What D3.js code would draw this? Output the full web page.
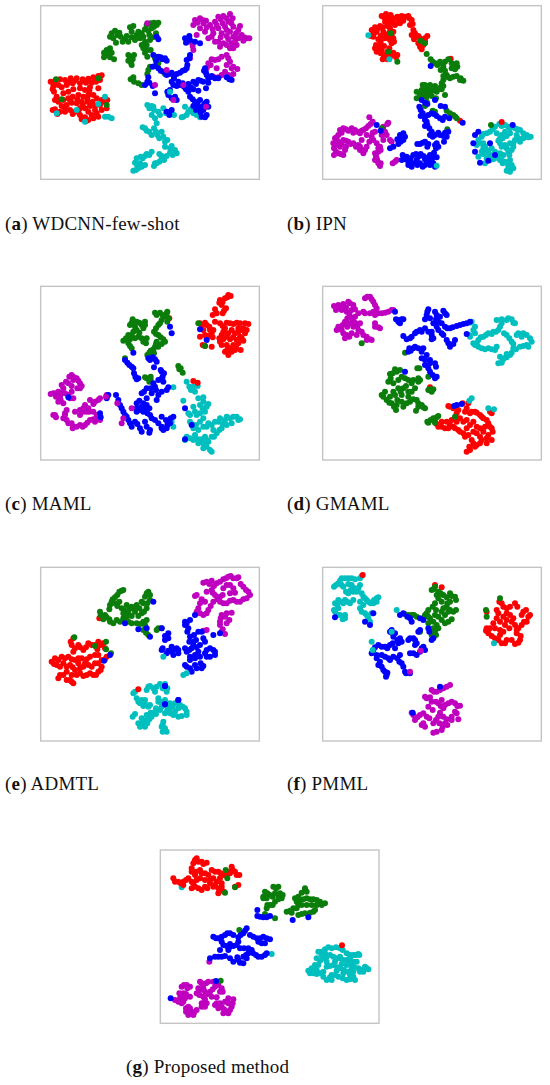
<!DOCTYPE html>
<html>
<head>
<meta charset="utf-8">
<script src="https://cdn.jsdelivr.net/npm/d3@7"></script>
<style>
  html, body { margin: 0; background: #fff; }
  svg { display: block; }
  text { font-family: "Liberation Serif", serif; font-size: 19px; letter-spacing: 0.2px; fill: #111; }
</style>
</head>
<body>
<div id="chart"></div>
<script>
// t-SNE points, in a 720 x 570 reading grid per panel
const aRed = [[75,243],[90,238],[105,240],[122,235],[140,235],[158,238],[175,236],[190,232],[205,228],[215,226],[70,258],[85,255],[72,275],[80,290],[95,262],[110,255],[128,250],[150,250],[168,248],[185,248],[198,245],[210,240],[180,262],[165,270],[150,265],[130,268],[115,275],[100,280],[85,305],[100,300],[115,295],[128,290],[145,285],[160,290],[175,285],[190,285],[200,295],[188,305],[172,305],[155,305],[140,310],[125,308],[110,315],[95,318],[75,328],[90,335],[105,335],[120,330],[135,335],[150,325],[165,325],[180,318],[195,318],[210,315],[220,305],[150,345],[165,352],[185,345],[200,340],[215,330],[230,325],[168,364],[155,358],[232,300],[62,245],[68,268],[75,300],[68,330],[82,342],[115,248],[135,242],[165,243],[195,238],[178,272],[172,295],[158,315],[142,298],[120,300],[105,325],[128,342],[145,335],[175,335],[195,330],[205,350],[190,355],[175,360],[215,300],[205,265]];
const aGreen = [[245,100],[255,92],[262,105],[250,115],[258,128],[272,110],[285,118],[295,125],[305,112],[300,82],[310,78],[305,95],[320,105],[330,115],[335,100],[345,88],[355,92],[362,70],[372,68],[380,75],[365,85],[378,100],[368,112],[360,120],[350,135],[340,145],[345,158],[352,170],[362,150],[230,150],[240,145],[228,162],[240,172],[252,178],[222,172],[300,170],[308,178],[295,182],[305,195],[312,165],[375,175],[385,190],[378,170],[355,210],[352,222],[302,238],[312,245],[325,250],[405,222],[78,238],[205,235],[95,298],[230,315],[240,110],[268,98],[278,125],[290,108],[315,120],[325,95],[340,110],[350,75],[358,105],[372,80],[385,68],[345,125],[335,135],[352,150],[235,165],[222,158],[245,158],[295,165],[303,188],[360,200],[310,232],[335,255],[385,180]];
const aBlue = [[380,110],[370,165],[385,170],[398,178],[410,182],[375,198],[385,205],[400,215],[410,225],[425,218],[440,222],[450,218],[465,210],[470,205],[355,232],[345,255],[358,248],[368,258],[432,235],[445,245],[430,255],[420,270],[415,285],[425,295],[440,300],[450,255],[462,260],[475,252],[490,268],[475,275],[490,245],[505,240],[520,245],[535,235],[545,228],[555,235],[528,218],[525,205],[530,225],[470,180],[480,165],[465,115],[480,120],[495,125],[510,130],[480,290],[495,305],[510,300],[525,310],[535,320],[520,330],[505,325],[490,318],[530,345],[515,350],[565,235],[590,232],[605,240],[505,272],[528,265],[410,335],[425,330],[375,280],[378,182],[392,172],[405,175],[368,200],[392,212],[418,222],[432,228],[458,212],[472,195],[478,175],[352,245],[440,258],[425,245],[412,275],[435,290],[458,250],[468,268],[482,262],[498,252],[512,242],[540,232],[522,212],[488,298],[502,312],[518,318],[530,305],[512,338],[525,352],[498,330],[468,128],[478,108],[385,118],[598,238],[535,248],[418,345]];
const aMagenta = [[495,60],[510,55],[520,70],[510,85],[525,95],[540,75],[555,65],[565,50],[580,48],[600,42],[608,55],[595,65],[578,70],[565,85],[550,100],[535,115],[555,125],[575,100],[590,90],[610,80],[625,90],[635,105],[650,115],[640,122],[625,115],[610,110],[595,118],[605,130],[620,135],[600,145],[580,130],[570,140],[555,180],[545,178],[535,190],[575,170],[590,165],[600,185],[590,195],[605,205],[622,207],[610,222],[595,225],[575,225],[560,205],[550,230],[480,125],[490,150],[480,175],[500,105],[502,68],[518,60],[530,82],[548,88],[560,75],[572,58],[590,55],[604,70],[585,80],[600,95],[618,100],[630,78],[642,112],[658,115],[615,125],[590,108],[572,112],[565,125],[545,110],[590,135],[610,145],[565,178],[542,195],[530,205],[595,175],[610,200],[585,215],[600,232],[565,232],[488,138],[490,75],[528,62]];
const aCyan = [[358,325],[372,330],[365,345],[375,355],[390,345],[400,325],[420,335],[432,345],[345,385],[358,395],[372,385],[382,405],[395,395],[380,370],[400,410],[412,420],[405,440],[420,445],[435,450],[428,465],[410,468],[395,475],[380,490],[372,498],[388,462],[365,455],[350,462],[338,475],[320,475],[330,490],[345,495],[325,505],[310,512],[460,350],[475,335],[490,340],[465,320],[510,352],[352,315],[365,318],[370,320],[385,335],[408,340],[425,340],[338,382],[350,392],[365,405],[378,395],[388,415],[405,425],[425,438],[440,460],[420,458],[402,480],[388,485],[375,490],[395,468],[358,465],[345,468],[332,470],[315,488],[322,498],[335,500],[318,510],[470,345],[482,328],[455,352],[500,345]];
const aMixed = [[235,350],[245,355],[225,350],[205,312],[225,290],[140,330],[80,340],[165,365],[420,275]];
const aMixedMagenta = [[375,255],[430,300],[460,255],[528,320],[410,210],[352,70]];

const bRed = [[215,48],[228,42],[242,45],[235,58],[250,55],[262,50],[278,55],[270,70],[255,75],[240,70],[225,65],[210,78],[195,82],[185,90],[200,95],[190,110],[205,118],[198,135],[212,125],[225,115],[235,105],[220,95],[240,85],[250,95],[250,115],[245,130],[238,145],[222,138],[205,150],[200,155],[212,160],[225,165],[240,170],[250,158],[262,165],[218,178],[232,178],[295,48],[305,60],[300,75],[310,90],[305,105],[318,110],[330,115],[345,115],[352,108],[325,130],[340,135],[335,148],[280,62],[422,176],[450,362],[575,366],[222,52],[238,52],[248,65],[265,62],[275,48],[285,50],[232,78],[218,82],[205,85],[192,100],[182,108],[212,108],[228,105],[238,98],[245,108],[252,125],[240,120],[208,140],[195,145],[215,150],[232,155],[245,165],[258,172],[298,55],[308,72],[315,100],[325,108],[338,125],[312,118],[330,140],[345,122],[222,172]];
const bGreen = [[350,162],[362,178],[375,190],[390,185],[405,185],[415,178],[430,195],[442,200],[435,208],[400,200],[392,210],[410,225],[400,240],[420,235],[440,228],[450,240],[460,242],[395,250],[395,268],[405,285],[345,255],[360,255],[375,258],[350,270],[365,272],[380,275],[320,275],[330,282],[340,288],[320,295],[350,290],[365,288],[345,318],[368,332],[410,332],[430,345],[440,355],[412,388],[262,185],[242,100],[332,122],[345,130],[235,155],[215,385],[543,375],[368,185],[382,195],[398,192],[425,190],[440,190],[425,205],[405,212],[400,228],[415,232],[430,230],[452,235],[400,258],[338,255],[355,262],[372,265],[385,268],[335,270],[330,292],[345,280],[360,280],[378,295],[375,335],[420,340],[436,350],[350,305],[392,262]];
const bBlue = [[362,198],[335,300],[328,320],[352,312],[375,300],[392,318],[405,320],[338,340],[332,348],[345,350],[350,365],[345,378],[358,385],[360,405],[375,405],[390,405],[405,398],[415,395],[402,425],[380,430],[378,445],[372,458],[345,425],[330,432],[352,440],[322,432],[365,340],[380,348],[390,355],[405,350],[418,355],[458,368],[280,400],[270,405],[262,418],[280,420],[265,432],[240,445],[278,465],[290,470],[275,480],[295,485],[310,465],[325,470],[340,468],[355,472],[365,480],[360,495],[345,495],[330,490],[310,490],[295,495],[320,480],[375,500],[380,472],[212,392],[200,375],[345,308],[332,330],[355,345],[372,342],[398,360],[345,360],[352,375],[365,395],[385,398],[400,408],[368,410],[410,410],[385,440],[375,435],[338,428],[355,432],[272,415],[285,410],[250,440],[272,425],[285,478],[302,475],[318,462],[332,462],[345,478],[360,465],[352,488],[338,500],[322,495],[300,480],[370,490],[372,470],[305,500]];
const bMagenta = [[178,352],[188,365],[175,378],[160,390],[150,400],[135,390],[125,385],[115,392],[100,385],[90,390],[85,405],[75,415],[70,430],[72,445],[72,465],[85,460],[100,465],[105,450],[90,440],[85,425],[100,420],[115,425],[130,430],[145,435],[150,450],[160,460],[170,440],[185,410],[190,420],[200,430],[210,440],[205,455],[195,460],[200,475],[205,490],[210,498],[195,480],[220,420],[230,405],[215,405],[232,372],[220,380],[245,425],[248,490],[260,480],[170,405],[155,420],[182,372],[168,385],[155,392],[142,395],[130,398],[108,388],[95,398],[80,412],[75,435],[78,455],[92,462],[108,440],[95,432],[108,422],[122,432],[138,440],[150,440],[165,450],[178,425],[195,395],[188,398],[205,445],[212,450],[198,468],[202,482],[212,490],[225,395],[235,368],[240,420],[255,485],[160,450]];
const bCyan = [[540,395],[555,380],[568,372],[585,375],[600,385],[615,385],[630,390],[640,400],[650,405],[662,410],[640,415],[630,425],[615,420],[600,400],[585,395],[575,405],[570,415],[520,402],[505,420],[520,430],[530,450],[515,455],[540,465],[555,470],[570,480],[585,485],[600,480],[595,500],[610,505],[590,512],[580,465],[590,445],[605,450],[585,435],[570,430],[505,470],[525,490],[545,445],[530,400],[548,388],[575,378],[595,380],[622,388],[645,408],[655,412],[625,415],[610,430],[590,408],[578,415],[565,422],[515,410],[510,430],[525,440],[520,462],[535,458],[550,478],[565,475],[578,490],[592,490],[605,495],[600,515],[598,465],[595,455],[575,440],[610,440],[530,475],[500,435],[560,400],[520,445],[555,455],[570,460],[575,470],[540,480],[620,405],[600,430]];
const bStrays = [[490,430],[495,405],[505,395],[495,455],[510,488],[535,482],[555,465],[540,430],[608,375]];
const bMixed = [[175,106],[380,497],[238,178]];

const cRed = [[595,45],[585,55],[570,60],[575,75],[588,85],[555,88],[548,105],[578,100],[510,130],[525,128],[538,140],[520,150],[510,170],[530,175],[545,160],[550,150],[525,198],[545,200],[570,130],[590,128],[610,132],[630,130],[655,132],[640,145],[645,160],[625,155],[605,150],[585,145],[575,165],[590,170],[610,172],[630,170],[640,182],[625,190],[610,195],[595,205],[585,215],[595,225],[615,210],[632,210],[570,185],[490,303],[503,308],[418,115],[592,52],[602,48],[578,65],[568,68],[582,92],[560,100],[515,135],[530,135],[540,150],[525,165],[535,168],[548,172],[518,195],[555,125],[578,138],[600,130],[620,128],[645,130],[650,150],[632,150],[615,160],[595,160],[580,155],[568,175],[580,178],[600,178],[620,180],[635,175],[618,200],[602,205],[590,212],[605,215],[590,195],[575,195],[625,145]];
const cGreen = [[308,118],[300,135],[315,140],[328,128],[345,125],[340,145],[328,158],[310,155],[295,165],[280,182],[295,190],[305,205],[325,170],[340,185],[350,175],[375,98],[390,98],[410,100],[415,115],[395,120],[385,135],[372,155],[385,165],[400,178],[395,192],[375,200],[362,212],[352,225],[372,220],[380,185],[350,295],[362,290],[358,305],[445,258],[452,265],[458,278],[285,235],[412,95],[505,130],[525,198],[305,128],[320,125],[335,135],[345,135],[320,150],[305,165],[288,175],[300,178],[315,175],[300,198],[335,175],[348,190],[380,105],[398,105],[405,110],[412,125],[390,130],[378,145],[378,162],[392,172],[405,185],[385,200],[370,208],[358,218],[378,192],[345,292],[362,300],[448,268]];
const cBlue = [[310,218],[285,240],[298,255],[310,265],[312,280],[320,298],[355,235],[368,232],[380,245],[372,262],[395,275],[398,290],[385,300],[375,320],[350,325],[335,340],[350,355],[365,340],[380,360],[395,335],[410,330],[320,370],[335,380],[350,375],[340,395],[320,395],[360,405],[375,420],[395,440],[410,445],[420,430],[395,410],[345,425],[360,450],[330,445],[315,425],[300,430],[290,410],[280,395],[270,375],[258,345],[235,345],[420,140],[425,160],[510,148],[530,180],[430,410],[115,352],[465,385],[465,478],[485,435],[210,400],[212,412],[292,248],[305,260],[316,290],[325,295],[360,240],[375,238],[392,270],[402,280],[392,298],[400,305],[415,322],[370,310],[378,330],[385,345],[362,325],[342,335],[328,362],[340,370],[358,385],[345,385],[330,390],[320,385],[352,400],[365,415],[385,430],[400,450],[412,435],[350,440],[335,455],[358,458],[322,432],[305,440],[295,420],[285,405],[275,385],[265,360],[230,355],[395,445],[422,415],[408,420]];
const cMagenta = [[125,285],[140,295],[150,310],[150,325],[130,300],[115,310],[95,315],[85,335],[70,340],[90,350],[105,340],[125,335],[130,355],[100,370],[85,365],[110,390],[75,405],[100,415],[115,430],[130,440],[150,435],[165,435],[180,420],[195,425],[205,415],[190,395],[175,385],[165,375],[180,360],[195,365],[210,355],[150,405],[160,395],[135,395],[230,350],[118,290],[132,292],[145,302],[155,318],[142,325],[125,318],[108,305],[100,325],[78,340],[62,342],[78,350],[95,340],[115,345],[120,355],[92,360],[70,405],[78,412],[105,405],[110,420],[125,430],[140,440],[158,440],[172,428],[190,418],[210,420],[200,405],[178,395],[170,395],[190,372],[205,360],[160,385],[150,390],[105,400],[128,445],[230,345]];
const cCyan = [[483,330],[490,320],[503,318],[470,305],[430,322],[460,362],[505,355],[520,365],[530,380],[525,395],[510,400],[490,380],[480,405],[500,405],[480,425],[490,445],[505,450],[520,440],[535,430],[520,415],[555,425],[570,415],[590,410],[610,410],[625,420],[605,430],[590,435],[575,445],[560,460],[545,470],[535,485],[520,490],[505,490],[490,480],[470,470],[495,465],[525,470],[540,510],[520,505],[430,440],[425,425],[478,320],[495,335],[510,375],[520,352],[535,372],[495,395],[518,385],[475,400],[485,432],[498,435],[510,425],[530,440],[545,435],[565,425],[585,420],[600,415],[620,410],[630,418],[578,432],[568,450],[552,470],[530,480],[515,478],[480,475],[465,480],[505,478],[550,450],[530,500],[545,515]];
const cMixed = [[262,370],[275,430],[280,415],[305,385],[228,350]];

const dMagenta = [[72,78],[85,75],[100,72],[115,65],[130,75],[125,90],[110,95],[95,90],[120,110],[105,125],[120,130],[135,128],[150,130],[85,140],[95,150],[110,165],[125,160],[145,150],[160,165],[180,178],[170,180],[165,55],[180,50],[190,65],[200,85],[180,100],[195,105],[215,100],[235,95],[160,95],[195,130],[205,142],[250,90],[145,100],[135,110],[78,90],[90,85],[108,82],[120,70],[135,88],[118,100],[128,118],[112,115],[98,135],[112,140],[130,140],[142,138],[80,150],[100,160],[118,170],[105,175],[140,165],[155,155],[170,170],[185,180],[172,50],[185,58],[195,75],[165,100],[190,95],[205,100],[225,98],[245,90],[195,140],[210,145]];
const dBlue = [[355,88],[350,105],[345,118],[375,95],[390,110],[405,100],[385,125],[405,140],[420,145],[440,138],[460,132],[380,140],[365,155],[345,145],[330,150],[315,160],[300,175],[280,168],[268,120],[280,118],[370,175],[395,160],[410,180],[420,200],[435,180],[310,205],[295,215],[325,205],[340,205],[350,225],[335,235],[345,255],[360,250],[375,250],[360,275],[375,295],[480,125],[470,162],[255,95],[285,275],[440,375],[455,372],[432,378],[352,95],[360,115],[380,105],[400,92],[410,105],[378,118],[395,130],[412,145],[428,142],[450,135],[470,130],[370,130],[355,155],[335,155],[320,155],[305,170],[290,178],[365,165],[385,150],[400,165],[415,190],[430,192],[365,178],[298,205],[315,200],[335,215],[345,240],[360,240],[378,260],[355,265],[368,285],[380,290],[302,212],[265,125],[275,118],[270,130],[258,118]];
const dGreen = [[255,268],[270,270],[240,282],[235,305],[250,310],[275,290],[295,300],[310,300],[325,305],[315,325],[295,335],[280,325],[265,325],[250,335],[225,335],[215,345],[230,360],[245,370],[260,375],[258,390],[280,380],[300,365],[320,360],[325,380],[340,382],[318,392],[355,330],[365,335],[328,265],[355,290],[352,425],[370,415],[385,408],[375,428],[435,410],[285,218],[155,190],[260,275],[248,280],[242,295],[265,300],[285,295],[305,310],[325,295],[330,300],[305,335],[288,318],[272,335],[255,345],[240,350],[220,350],[238,368],[252,380],[290,370],[310,358],[325,370],[335,375],[345,385],[360,328],[370,328],[322,265],[362,420],[355,428],[380,412],[275,345],[262,360],[275,365],[295,350]];
const dRed = [[415,378],[430,385],[440,400],[458,370],[475,370],[465,395],[480,400],[495,395],[510,405],[520,415],[535,430],[545,445],[535,465],[545,480],[530,490],[510,490],[495,500],[480,510],[470,515],[485,480],[465,470],[450,455],[435,445],[420,435],[405,445],[385,440],[375,425],[410,425],[440,425],[460,425],[480,435],[500,440],[520,455],[500,460],[540,395],[545,400],[360,322],[420,380],[440,378],[445,390],[470,385],[485,395],[500,398],[515,410],[530,420],[540,440],[548,455],[530,475],[515,480],[500,495],[490,490],[478,500],[475,465],[460,460],[445,450],[430,440],[415,445],[395,440],[380,432],[395,425],[425,420],[450,415],[470,420],[490,425],[510,445],[510,470],[525,440],[470,445],[490,455]];
const dCyan = [[485,125],[495,140],[495,160],[480,170],[490,190],[505,180],[520,170],[535,160],[550,155],[565,150],[575,130],[560,120],[575,118],[595,115],[610,128],[590,165],[605,185],[620,165],[640,160],[660,175],[650,195],[630,200],[610,205],[600,225],[575,248],[570,230],[590,232],[555,210],[535,205],[515,205],[495,195],[480,128],[490,150],[478,165],[500,190],[512,172],[528,165],[545,162],[558,155],[570,140],[590,120],[605,118],[615,130],[582,160],[598,175],[610,192],[625,160],[635,170],[650,165],[665,185],[655,200],[640,198],[618,208],[605,218],[590,222],[578,240],[565,250],[582,235],[560,200],[545,208],[525,208],[505,200]];
const dMixed = [[485,355],[478,362],[535,385],[552,388]];

const eGreen = [[275,92],[262,105],[248,118],[240,135],[255,130],[268,125],[210,155],[225,165],[220,178],[240,185],[260,180],[275,145],[290,135],[305,140],[320,135],[335,125],[345,110],[355,95],[360,120],[350,145],[335,160],[315,155],[295,160],[280,175],[295,185],[320,190],[340,185],[350,180],[340,210],[355,225],[380,210],[395,205],[133,232],[228,245],[195,258],[243,280],[228,268],[268,95],[280,90],[255,112],[245,125],[238,148],[262,138],[212,165],[230,172],[238,178],[250,190],[270,185],[282,150],[298,148],[312,145],[328,145],[340,130],[350,100],[360,105],[352,130],[342,155],[325,168],[305,168],[290,172],[305,190],[330,192],[345,195],[348,218],[385,205],[280,160]];
const eRed = [[130,235],[125,255],[130,275],[145,255],[160,270],[175,250],[195,255],[205,245],[220,250],[225,265],[195,285],[180,290],[155,295],[135,300],[115,290],[95,290],[75,295],[65,305],[80,315],[100,310],[120,315],[135,330],[110,335],[90,345],[120,360],[130,370],[150,340],[170,345],[190,345],[205,335],[215,320],[195,310],[175,315],[160,320],[145,310],[215,300],[230,290],[208,175],[325,388],[122,245],[135,265],[150,262],[168,262],[185,255],[202,268],[212,255],[205,285],[170,298],[145,295],[125,298],[105,295],[85,300],[72,312],[90,320],[110,320],[128,322],[125,345],[100,345],[85,355],[110,360],[125,365],[140,345],[160,348],[180,340],[198,345],[212,330],[205,310],[185,320],[165,310],[150,325],[225,298]];
const eBlue = [[370,125],[325,208],[360,230],[395,205],[415,220],[405,240],[398,265],[410,280],[425,275],[440,265],[445,280],[430,285],[470,190],[475,205],[480,230],[490,245],[505,215],[520,235],[510,255],[485,265],[470,275],[495,285],[505,275],[530,270],[550,270],[555,285],[530,290],[480,300],[465,315],[480,325],[495,315],[515,325],[480,180],[495,165],[550,225],[570,220],[222,302],[445,420],[405,433],[405,378],[285,190],[240,285],[472,215],[465,195],[478,245],[492,225],[498,240],[515,215],[525,245],[500,262],[490,255],[478,270],[465,265],[480,290],[495,295],[510,290],[525,280],[540,265],[555,275],[540,290],[470,320],[485,335],[500,325],[520,318],[512,310],[395,270],[415,272],[430,270],[445,270],[425,260],[405,228],[415,235],[465,185],[350,205]];
const eMagenta = [[530,65],[545,62],[560,70],[580,58],[595,50],[610,55],[625,52],[640,80],[655,95],[650,115],[630,125],[610,120],[590,130],[570,125],[555,105],[545,90],[530,95],[500,105],[510,130],[500,155],[520,165],[535,150],[550,125],[570,110],[600,100],[590,75],[610,85],[575,165],[590,160],[605,158],[570,185],[590,190],[575,215],[585,222],[530,210],[520,212],[520,68],[538,72],[552,78],[570,65],[588,55],[602,48],[620,55],[632,72],[648,90],[660,105],[640,118],[620,125],[600,122],[580,130],[562,118],[548,98],[495,108],[515,118],[525,125],[505,145],[510,160],[530,160],[542,138],[578,105],[615,98],[600,75],[580,85],[572,175],[585,170],[598,180],[570,195],[578,208]];
const eCyan = [[390,372],[405,372],[360,378],[375,395],[410,395],[350,390],[310,400],[320,415],[330,430],[345,432],[355,440],[390,425],[405,435],[390,450],[405,460],[420,445],[435,430],[450,435],[465,445],[470,465],[445,470],[430,465],[375,455],[365,470],[350,480],[335,490],[325,490],[345,500],[308,470],[400,485],[395,500],[410,515],[398,515],[380,380],[398,385],[412,385],[370,385],[355,380],[315,395],[325,425],[340,438],[360,435],[385,415],[398,428],[395,440],[412,450],[428,440],[445,445],[458,440],[470,455],[455,468],[435,455],[378,462],[358,478],[342,488],[330,500],[352,490],[315,462],[398,495],[405,505],[385,425],[410,430],[335,420],[345,420],[420,430],[378,445],[362,458],[420,460],[405,420],[350,465],[335,475]];
const eStrays = [[445,420],[405,433],[405,378]];
const eMixed = [[400,290],[460,345],[470,340]];

const fCyan = [[155,48],[135,58],[115,55],[95,55],[85,70],[72,80],[100,80],[125,75],[130,95],[115,100],[150,75],[155,100],[165,115],[175,125],[190,130],[200,115],[75,130],[90,125],[105,120],[120,130],[75,155],[90,165],[105,175],[85,145],[150,125],[150,145],[165,160],[175,175],[185,160],[140,95],[150,55],[125,55],[105,55],[90,62],[78,75],[95,75],[115,72],[135,85],[122,90],[108,95],[145,85],[160,110],[170,120],[182,130],[200,125],[205,112],[82,135],[100,130],[112,125],[130,120],[72,150],[82,165],[98,178],[105,165],[160,135],[155,155],[170,165],[180,185],[192,120],[85,120]];
const fBlue = [[180,195],[165,185],[245,210],[255,220],[270,235],[265,250],[255,265],[240,255],[225,260],[205,255],[190,270],[215,285],[235,295],[250,290],[270,285],[210,305],[220,330],[230,345],[275,310],[285,335],[300,340],[295,240],[310,235],[325,215],[320,250],[340,260],[310,280],[330,275],[270,165],[300,175],[330,175],[355,205],[370,235],[75,172],[190,160],[390,380],[308,458],[240,215],[250,230],[262,240],[275,245],[248,250],[232,265],[215,260],[195,262],[185,280],[200,285],[225,290],[240,300],[262,295],[205,315],[215,320],[225,335],[268,305],[280,320],[288,340],[300,235],[315,240],[330,210],[315,255],[335,265],[345,270],[300,280],[320,285],[280,160],[292,170],[305,185],[340,180],[358,215],[365,240],[228,350],[232,338],[200,295]];
const fGreen = [[375,80],[365,90],[385,95],[400,105],[420,100],[435,110],[420,125],[395,125],[375,130],[410,140],[430,155],[395,155],[355,150],[345,165],[360,175],[375,165],[395,180],[415,185],[380,195],[375,215],[365,225],[285,163],[305,165],[320,170],[330,215],[570,115],[528,150],[530,170],[245,218],[370,88],[380,105],[392,100],[410,112],[425,108],[438,120],[412,130],[385,115],[368,140],[378,150],[400,145],[420,150],[438,150],[405,165],[385,170],[350,160],[340,175],[355,190],[370,185],[385,205],[378,225],[405,190],[425,178],[295,165],[312,165],[355,170],[370,205],[415,155]];
const fRed = [[575,130],[590,145],[615,130],[640,155],[660,165],[650,185],[635,195],[620,210],[630,240],[615,252],[590,240],[575,250],[555,235],[535,220],[530,205],[550,190],[560,175],[580,170],[600,165],[605,185],[585,195],[570,210],[560,150],[530,155],[158,45],[375,75],[395,82],[568,125],[580,140],[600,140],[622,140],[635,165],[648,150],[655,170],[642,185],[625,205],[632,228],[625,248],[605,240],[585,250],[565,240],[545,228],[528,212],[540,205],[555,205],[570,185],[590,180],[610,175],[615,195],[598,205],[580,215],[565,160],[590,160],[570,225],[620,220]];
const fMagenta = [[420,375],[400,385],[380,395],[365,390],[345,410],[365,425],[385,430],[400,445],[415,430],[435,430],[450,437],[435,455],[445,478],[425,480],[405,490],[395,510],[380,515],[340,490],[315,480],[305,458],[330,465],[350,470],[370,490],[385,470],[355,440],[400,470],[410,380],[390,390],[372,395],[350,415],[360,412],[378,425],[392,438],[405,435],[425,425],[442,438],[440,460],[425,470],[410,478],[412,495],[398,500],[370,518],[335,495],[345,500],[322,472],[310,465],[340,460],[358,475],[378,480],[390,458],[388,490],[368,450],[395,420]];
const fMixed = [[260,150],[185,245],[552,250],[245,215],[188,270]];
const fMixedMagenta = [[300,335],[332,272]];

const gRed = [[140,55],[130,70],[125,85],[155,65],[170,68],[135,105],[150,90],[165,100],[185,90],[205,95],[222,105],[245,80],[255,95],[268,105],[240,100],[70,115],[85,125],[100,125],[115,115],[130,130],[145,145],[125,145],[165,140],[180,130],[195,135],[215,140],[205,160],[222,155],[210,115],[190,115],[150,115],[255,140],[265,135],[576,316],[135,60],[145,65],[125,95],[160,72],[138,95],[155,100],[175,105],[195,95],[212,100],[230,108],[248,90],[260,105],[75,125],[92,130],[108,120],[125,125],[135,140],[155,150],[172,145],[190,140],[205,145],[215,150],[200,125],[180,120],[165,120],[140,120],[100,135],[215,130],[235,95]];
const gGreen = [[370,140],[385,140],[345,155],[340,170],[360,165],[390,160],[395,175],[375,185],[360,195],[350,205],[345,222],[375,235],[465,150],[455,158],[435,175],[450,180],[470,175],[490,178],[510,185],[525,190],[500,195],[470,195],[445,195],[430,205],[410,215],[425,218],[490,215],[465,220],[445,225],[268,270],[227,90],[232,115],[225,158],[255,142],[212,422],[378,145],[352,160],[350,175],[368,170],[385,165],[398,165],[385,178],[368,195],[352,195],[465,145],[470,155],[445,170],[440,185],[460,178],[480,178],[500,180],[515,195],[485,195],[455,195],[440,205],[420,212],[480,218],[495,210],[455,222],[340,175],[375,160]];
const gBlue = [[322,210],[322,228],[340,232],[360,228],[428,240],[475,232],[290,265],[280,280],[265,292],[240,280],[225,285],[205,295],[190,290],[300,285],[320,295],[340,290],[360,298],[335,310],[220,315],[240,312],[260,315],[270,325],[295,325],[310,340],[325,350],[345,345],[295,340],[280,350],[265,360],[280,370],[250,365],[215,350],[195,350],[180,355],[235,330],[210,330],[198,423],[62,475],[330,230],[350,232],[285,272],[272,285],[250,285],[232,280],[215,290],[198,295],[310,290],[330,295],[350,295],[325,305],[345,310],[215,305],[230,318],[250,318],[265,305],[282,325],[305,330],[318,345],[335,350],[288,345],[270,368],[262,352],[240,355],[225,348],[205,350],[238,322],[290,355],[350,340]];
const gMagenta = [[178,365],[110,435],[95,440],[120,440],[100,460],[90,475],[75,480],[95,490],[115,500],[125,515],[130,525],[108,515],[155,430],[175,425],[160,445],[140,460],[160,470],[180,455],[195,440],[215,445],[170,490],[155,500],[200,490],[215,500],[230,515],[245,500],[250,478],[235,490],[102,435],[112,445],[108,462],[95,468],[85,485],[100,485],[108,505],[120,505],[132,518],[150,425],[168,430],[150,450],[148,465],[165,478],[172,462],[188,448],[205,435],[218,455],[165,500],[195,495],[205,505],[222,508],[240,510],[248,490],[225,485],[210,490],[155,490],[88,460],[105,475],[120,470],[145,445],[165,455],[185,470],[200,472],[235,475],[220,520],[235,520],[115,525],[140,510],[190,425],[210,455]];
const gCyan = [[505,335],[525,328],[545,325],[570,325],[590,340],[610,345],[625,342],[620,365],[600,370],[580,360],[560,355],[540,345],[520,355],[500,355],[495,375],[475,392],[490,400],[510,400],[530,380],[550,375],[570,385],[595,395],[625,385],[645,380],[655,388],[630,395],[545,405],[565,410],[590,420],[615,420],[530,420],[545,420],[365,342],[95,142],[515,335],[535,322],[558,322],[578,330],[600,345],[618,345],[628,345],[610,365],[590,360],[570,355],[550,350],[530,350],[510,362],[505,375],[485,385],[480,400],[500,402],[520,395],[540,378],[562,382],[582,390],[605,385],[612,380],[650,385],[640,395],[555,405],[578,415],[600,418],[540,412],[610,410],[570,350],[590,375],[515,345],[530,365],[555,365],[575,372],[600,355],[560,392],[520,410],[500,390],[610,395],[580,400],[600,405],[525,340],[640,388]];

const red = '#ff0000', green = '#0a7d0a', blue = '#0000ff', magenta = '#bf00bf', cyan = '#00bfbf';

const panels = [
  { letter: 'a', name: 'WDCNN-few-shot', x: 30, y: 0, capX: 5, capY: 230, layers: [[aCyan, cyan], [aMagenta, magenta], [aRed, red], [aGreen, green], [aBlue, blue], [aMixed, cyan], [aMixedMagenta, magenta]] },
  { letter: 'b', name: 'IPN', x: 310, y: 0, capX: 287, capY: 230, layers: [[bCyan, cyan], [bMagenta, magenta], [bRed, red], [bGreen, green], [bBlue, blue], [bStrays, blue], [bMixed, cyan]] },
  { letter: 'c', name: 'MAML', x: 30, y: 280, capX: 5, capY: 510, layers: [[cCyan, cyan], [cMagenta, magenta], [cRed, red], [cGreen, green], [cBlue, blue], [cMixed, magenta]] },
  { letter: 'd', name: 'GMAML', x: 310, y: 280, capX: 287, capY: 510, layers: [[dCyan, cyan], [dMagenta, magenta], [dRed, red], [dGreen, green], [dBlue, blue], [dMixed, cyan]] },
  { letter: 'e', name: 'ADMTL', x: 30, y: 560, capX: 5, capY: 790, layers: [[eCyan, cyan], [eMagenta, magenta], [eRed, red], [eGreen, green], [eBlue, blue], [eStrays, blue], [eMixed, cyan]] },
  { letter: 'f', name: 'PMML', x: 310, y: 560, capX: 287, capY: 790, layers: [[fCyan, cyan], [fMagenta, magenta], [fRed, red], [fGreen, green], [fBlue, blue], [fMixed, cyan], [fMixedMagenta, magenta]] },
  { letter: 'g', name: 'Proposed method', x: 150, y: 840, capX: 126, capY: 1073, layers: [[gCyan, cyan], [gMagenta, magenta], [gRed, red], [gGreen, green], [gBlue, blue]] }
];

const xScale = d3.scaleLinear().domain([0, 720]).range([0, 240]);
const yScale = d3.scaleLinear().domain([0, 570]).range([0, 190]);

const svg = d3.select('#chart').append('svg')
  .attr('width', 550)
  .attr('height', 1085);

panels.forEach(p => {
  const g = svg.append('g').attr('transform', `translate(${p.x},${p.y})`);

  // frame edges differ a little between panel rows
  const top = p.letter === 'g' ? 30 : (p.y === 0 ? 17 : (p.y === 280 ? 19 : 22));
  const left = p.x === 30 ? 32 : (p.x === 310 ? 38 : 31);
  g.append('rect')
    .attr('x', xScale(left))
    .attr('y', yScale(top))
    .attr('width', xScale(656))
    .attr('height', yScale(p.letter === 'g' ? 520 : 521))
    .attr('fill', '#fff')
    .attr('stroke', '#c4c4c4')
    .attr('stroke-width', 1.4);

  p.layers.forEach(([points, color]) => {
    g.append('g').selectAll('circle')
      .data(points)
      .enter().append('circle')
      .attr('cx', d => xScale(d[0]))
      .attr('cy', d => yScale(d[1]))
      .attr('r', 3)
      .attr('fill', color);
  });

  const cap = svg.append('text').attr('x', p.capX).attr('y', p.capY);
  cap.append('tspan').text('(');
  cap.append('tspan').attr('font-weight', 'bold').text(p.letter);
  cap.append('tspan').text(') ' + p.name);
});
</script>
</body>
</html>
